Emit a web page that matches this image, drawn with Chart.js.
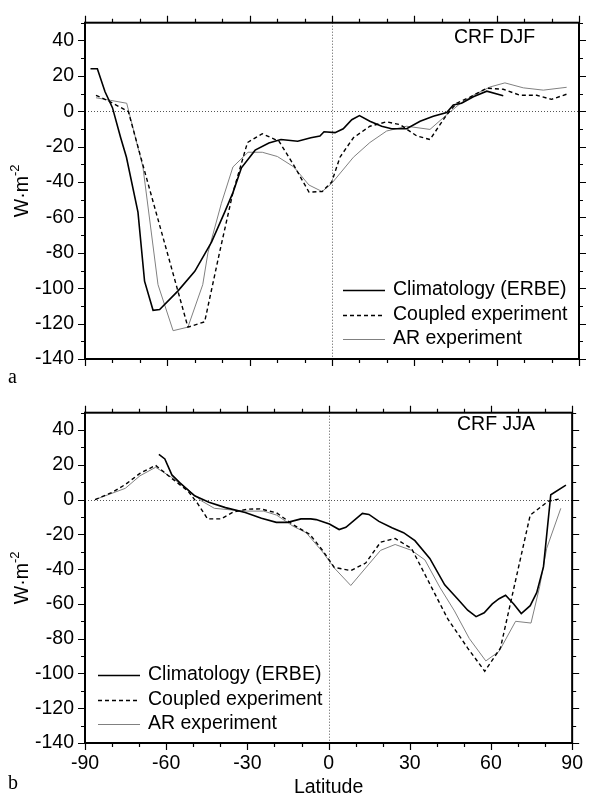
<!DOCTYPE html>
<html>
<head>
<meta charset="utf-8">
<script src="https://cdn.jsdelivr.net/npm/chart.js"></script>
<style>
  body { margin: 0; background: #fff; }
  .wrap { position: relative; width: 592px; height: 799px; }
  canvas { position: absolute; left: 0; }
  #djf { top: 0; }
  #jja { top: 390px; }
</style>
</head>
<body>
<div class="wrap">
  <canvas id="djf" width="592" height="390"></canvas>
  <canvas id="jja" width="592" height="409"></canvas>
</div>
<script>
// axis ticks
const yTicks = [-140, -120, -100, -80, -60, -40, -20, 0, 20, 40];
const xTicks = [-90, -60, -30, 0, 30, 60, 90];

// CRF DJF (panel a)
const djfClimLat = [-88, -85.5, -82.7, -80, -77, -74.9, -70.7, -68.3, -65.2, -62.8, -56.1, -50, -43.9, -39.1, -36.1, -33, -28, -23, -18.6, -12.5, -7.7, -4.4, -2.9, 1.1, 4.1, 7.2, 10, 13.8, 18.1, 21.7, 27.2, 32.1, 36.9, 41.8, 44.2, 47.2, 51.5, 56.4, 62.4];
const djfClimVal = [24, 24, 11, 2, -15, -26, -57, -96, -112.5, -112, -101.5, -90.5, -74, -57, -46, -32, -22, -18, -16, -17, -15, -14, -11.6, -12.1, -9.9, -4.8, -2.5, -5.7, -8.5, -9.9, -9.9, -5.7, -2.9, -0.7, 3.5, 4.5, 8.2, 11.3, 8.7];
const djfCoupLat = [-86, -81, -74.2, -68.7, -52.5, -46.4, -41, -36.1, -30.8, -25.4, -19.3, -13.9, -8.4, -3.6, -0.1, 2.9, 7.8, 13.8, 19.9, 24.8, 30.9, 35.7, 41.8, 45.4, 50.3, 56.4, 62.4, 68.5, 74.6, 80, 85.5];
const djfCoupVal = [9, 5.4, -0.2, -31.5, -122, -119, -80, -46, -17.7, -12.7, -17, -30.6, -45.7, -45.4, -40, -26, -15, -8.5, -6, -7.6, -14, -16, -2, 4.5, 8, 13, 12.4, 9, 9, 6.7, 9.6];
const djfArLat = [-86, -74.8, -68.9, -63.4, -57.9, -52.5, -47.1, -45.2, -40.3, -36.1, -30.6, -25.4, -19.9, -13.9, -8.4, -3.6, -0.1, 7.8, 13.8, 19.9, 27.2, 35.7, 41.8, 46.6, 51.5, 57.6, 63, 69.7, 77, 85.5];
const djfArVal = [7.6, 4.5, -31.5, -98, -124, -122, -98, -80, -52, -31.5, -23.2, -23.2, -25.6, -31.5, -41.7, -45.4, -40.8, -26, -17.7, -11.2, -8.5, -10.3, -2, 4.2, 9, 13.7, 16, 13.2, 11.9, 13.5];

// CRF JJA (panel b)
const jjaClimLat = [-62.7, -60.5, -57.9, -54.9, -49.5, -44.2, -38.1, -30.8, -24.8, -19.3, -15.1, -10.2, -6.6, -4.6, 0.3, 3.9, 6.4, 12.5, 14.9, 18.6, 23.4, 27.7, 31.9, 37.4, 42.9, 47.7, 51.4, 54.5, 57.5, 60.5, 63, 65.4, 68.4, 71.2, 74.5, 76.9, 79.4, 82.1, 87.7];
const jjaClimVal = [26, 23.4, 14.2, 9.6, 2.2, -1.5, -4.6, -7.4, -10.7, -13.1, -13.1, -11.1, -11.1, -11.5, -14, -17.2, -15.9, -7.9, -8.5, -12.5, -16.2, -19, -23.6, -33.8, -49, -57.2, -63.6, -67.3, -65.1, -60, -57, -55, -60, -65.5, -61, -53.5, -38.7, 2.8, 8.3];
const jjaCoupLat = [-86.3, -80, -75.1, -69.7, -63.9, -58.1, -52, -48.3, -44.7, -39.8, -35, -30.1, -25.3, -19.2, -13.1, -7, -2.2, 2.1, 8.2, 13.7, 19.2, 24.6, 30.7, 36.8, 44.1, 51.4, 57.7, 63.5, 74.5, 81.2, 85.8];
const jjaCoupVal = [0, 4.1, 8.7, 15.1, 19.7, 12.4, 5, -2.4, -11.1, -11.1, -7, -5.5, -5.3, -7.6, -14.4, -19.9, -29.2, -39, -40.8, -36.5, -24.5, -22.3, -28.2, -46.7, -68.8, -85.4, -98.7, -85.4, -8.9, -0.9, 0.5];
const jjaArLat = [-86.3, -75.1, -69.7, -63.9, -58.1, -52, -47.1, -42.2, -36.1, -30.1, -24, -19.2, -13.1, -8.3, -2.2, 2.1, 8.2, 13.7, 19.2, 24.6, 30.7, 35.6, 41.1, 46.5, 52, 58.1, 63, 69.1, 74.8, 78, 80.6, 85.8];
const jjaArVal = [0, 6.5, 13.7, 18.6, 12.9, 5.9, -0.6, -5, -5.9, -6.6, -6.6, -8.9, -15.3, -19, -30.1, -39.3, -49.4, -39.3, -29.2, -25.8, -29.2, -34.7, -50.4, -64, -79.9, -92.8, -87.3, -70, -71, -50, -28, -5];

const labels = ['Climatology (ERBE)', 'Coupled experiment', 'AR experiment'];

const FONT = "'Liberation Sans', Arial, Helvetica, sans-serif";
Chart.defaults.font.family = FONT;
Chart.defaults.font.size = 19.5;
Chart.defaults.color = '#000';

function pts(lat, val) {
  return lat.map((x, i) => ({ x: x, y: val[i] }));
}

function makeSets(cl, cv, kl, kv, al, av) {
  return [
    { label: labels[0], data: pts(cl, cv), borderColor: '#000', borderWidth: 1.6, borderDash: [] },
    { label: labels[1], data: pts(kl, kv), borderColor: '#000', borderWidth: 1.4, borderDash: [4, 3] },
    { label: labels[2], data: pts(al, av), borderColor: '#808080', borderWidth: 1, borderDash: [] }
  ];
}

// frame, outward ticks, zero lines, legend and panel texts
const panelDeco = {
  id: 'panelDeco',
  beforeDatasetsDraw(chart) {
    const { ctx, chartArea: a, scales: { x, y } } = chart;
    ctx.save();
    ctx.strokeStyle = '#555';
    ctx.lineWidth = 1;
    ctx.setLineDash([1, 2]);
    ctx.beginPath();
    const y0 = Math.round(y.getPixelForValue(0)) + 0.5;
    ctx.moveTo(a.left, y0); ctx.lineTo(a.right, y0);
    const x0 = Math.round(x.getPixelForValue(0)) + 0.5;
    ctx.moveTo(x0, a.top); ctx.lineTo(x0, a.bottom);
    ctx.stroke();
    ctx.restore();
  },
  afterDatasetsDraw(chart, args, o) {
    const { ctx, chartArea: a, scales: { x, y } } = chart;
    ctx.save();
    ctx.strokeStyle = '#000';
    ctx.setLineDash([]);
    ctx.lineWidth = 2;
    ctx.strokeRect(a.left, a.top, a.right - a.left, a.bottom - a.top);

    ctx.lineWidth = 1.2;
    ctx.beginPath();
    for (let v = -140; v <= 50; v += 10) {
      const py = Math.round(y.getPixelForValue(v)) + 0.5;
      const len = v % 20 === 0 ? 7 : 4;
      ctx.moveTo(a.left - len, py); ctx.lineTo(a.left, py);
      ctx.moveTo(a.right, py); ctx.lineTo(a.right + len, py);
    }
    for (let v = -90; v <= 90; v += 10) {
      const px = Math.round(x.getPixelForValue(v)) + 0.5;
      const len = v % 30 === 0 ? 7 : 4;
      ctx.moveTo(px, a.bottom); ctx.lineTo(px, a.bottom + len);
      ctx.moveTo(px, a.top - len); ctx.lineTo(px, a.top);
    }
    ctx.stroke();

    // legend
    ctx.font = '19.5px ' + FONT;
    ctx.fillStyle = '#000';
    ctx.textBaseline = 'middle';
    ctx.textAlign = 'left';
    chart.data.datasets.forEach((ds, i) => {
      const ly = o.legendY + i * 24.5;
      ctx.strokeStyle = ds.borderColor;
      ctx.lineWidth = ds.borderWidth;
      ctx.setLineDash(ds.borderDash);
      ctx.beginPath();
      ctx.moveTo(o.legendX, Math.round(ly) + 0.5);
      ctx.lineTo(o.legendX + 42, Math.round(ly) + 0.5);
      ctx.stroke();
      ctx.fillText(ds.label, o.legendX + 50, ly);
    });
    ctx.setLineDash([]);

    // panel title
    ctx.fillText(o.title, o.titleX, o.titleY);

    // y axis title with superscript
    const midY = (a.top + a.bottom) / 2;
    ctx.save();
    ctx.translate(23, midY);
    ctx.rotate(-Math.PI / 2);
    ctx.font = '19.5px ' + FONT;
    const w1 = ctx.measureText('W\u00b7m').width;
    ctx.font = '13px ' + FONT;
    const w2 = ctx.measureText('-2').width;
    const sx = -(w1 + w2) / 2;
    ctx.font = '19.5px ' + FONT;
    ctx.fillText('W\u00b7m', sx, 0);
    ctx.font = '13px ' + FONT;
    ctx.fillText('-2', sx + w1, -8);
    ctx.restore();

    // panel letter
    ctx.font = "20px 'Liberation Serif', 'Times New Roman', serif";
    ctx.fillText(o.letter, 8, o.letterY);

    if (o.xTitle) {
      ctx.font = '19.5px ' + FONT;
      ctx.textAlign = 'center';
      ctx.fillText(o.xTitle, (a.left + a.right) / 2, a.bottom + 45);
    }
    ctx.restore();
  }
};

function makeChart(id, sets, deco, showX, pad, xHeight) {
  return new Chart(document.getElementById(id), {
    type: 'line',
    data: { datasets: sets },
    options: {
      responsive: false,
      animation: false,
      layout: { padding: { top: pad, right: 13, left: 0, bottom: 0 } },
      elements: { point: { radius: 0 }, line: { tension: 0 } },
      plugins: { legend: { display: false }, tooltip: { enabled: false }, panelDeco: deco },
      scales: {
        x: {
          type: 'linear', min: -90, max: 90,
          afterBuildTicks: s => { s.ticks = xTicks.map(v => ({ value: v })); },
          ticks: { display: showX, padding: 9, maxRotation: 0, autoSkip: false },
          grid: { display: false, drawTicks: false },
          border: { display: false },
          afterFit: s => { s.height = xHeight; }
        },
        y: {
          type: 'linear', min: -140, max: 50,
          afterBuildTicks: s => { s.ticks = yTicks.map(v => ({ value: v })); },
          ticks: { padding: 11 },
          grid: { display: false, drawTicks: false },
          border: { display: false },
          afterFit: s => { s.width = 85; }
        }
      }
    },
    plugins: [panelDeco]
  });
}

makeChart('djf',
  makeSets(djfClimLat, djfClimVal, djfCoupLat, djfCoupVal, djfArLat, djfArVal),
  { title: 'CRF DJF', titleX: 454, titleY: 38, legendX: 343, legendY: 290, letter: 'a', letterY: 378 },
  false, 16, 31);

makeChart('jja',
  makeSets(jjaClimLat, jjaClimVal, jjaCoupLat, jjaCoupVal, jjaArLat, jjaArVal),
  { title: 'CRF JJA', titleX: 457, titleY: 35, legendX: 98, legendY: 285, letter: 'b', letterY: 394, xTitle: 'Latitude' },
  true, 8, 56);
</script>
</body>
</html>
